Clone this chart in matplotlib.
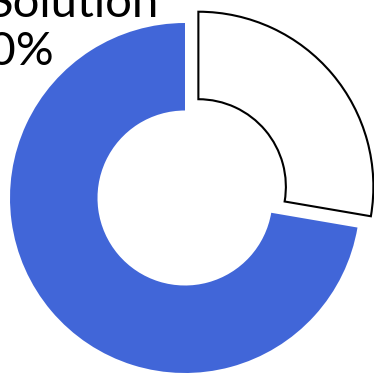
import matplotlib.pyplot as plt

labels = ["Solution", "Other"]
values = [27.7, 72.3]
colors = ["white", "#4166d8"]
explode = [0.1, 0]
title_line = "Solution"
pct_line = "70%"

fig = plt.figure(figsize=(3.74, 3.73), dpi=100)
ax = fig.add_axes([0, 0, 1, 1])

wedges, _ = ax.pie(values, colors=colors, explode=explode, startangle=90,
                   counterclock=False, radius=1,
                   wedgeprops=dict(width=0.5))
wedges[0].set_edgecolor("black")
wedges[0].set_linewidth(1.5)
wedges[1].set_edgecolor("none")

# label sits partly off the left edge, as in the original
ax.text(-0.15, 1.034, title_line, fontsize=34, family="Lato",
        ha="right", va="baseline")
ax.text(-0.75, 0.76, pct_line, fontsize=34, family="Lato",
        ha="right", va="baseline")

ax.set_aspect("equal")
ax.set_xlim(-185 / 175, 189 / 175)
ax.set_ylim(-175 / 175, 198 / 175)
ax.axis("off")

fig.savefig("out.png", dpi=100)
